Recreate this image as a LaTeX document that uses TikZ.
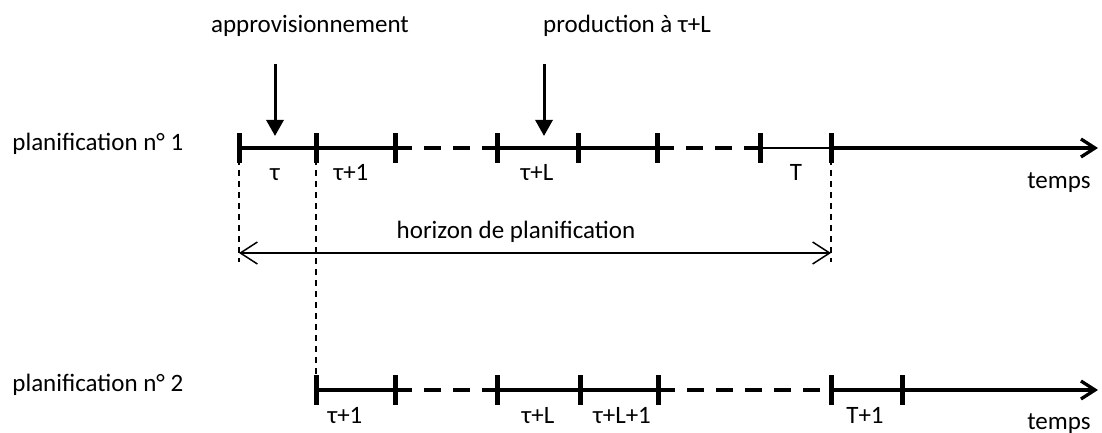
\documentclass[tikz,border=0pt]{standalone}
\usepackage{fontspec}
\setmainfont{Carlito}
\usetikzlibrary{arrows.meta}

\begin{document}
\begin{tikzpicture}[x=0.5pt,y=-0.5pt,
        every node/.style={font=\fontsize{12.5}{15}\selectfont,inner sep=0pt},
        axe/.style={line width=1.65pt},
        tiret/.style={line width=1.65pt,dash pattern=on 8.5pt off 6pt},
        tick/.style={line width=2.5pt},
        guide/.style={line width=0.7pt,dash pattern=on 3pt off 2.5pt},
        fleche/.style={line width=1.5pt,-{Triangle[length=8pt,width=8.5pt]}},
        barb/.style={-{Straight Barb[length=7pt,width=9pt]}}]
        \useasboundingbox (0,0) rectangle (1102,433);
        \foreach \n/\x in {0/239,1/316,2/395,3/497,4/578,5/657,6/760,7/831}
            \coordinate (a\n) at (\x,148);
        \foreach \n/\x in {1/316,2/395,3/497,4/580,5/658,6/831,7/902}
            \coordinate (b\n) at (\x,390);
        \coordinate (ea) at (1098,148);
        \coordinate (eb) at (1098,390);
        \coordinate (g0) at (239,262);
        \coordinate (g7) at (831,262);
        \coordinate (h0) at (239,253);
        \coordinate (h7) at (831,253);
        \coordinate (d1) at (275,64);
        \coordinate (t1) at (275,136);
        \coordinate (d2) at (544,64);
        \coordinate (t2) at (544,136);

        \draw[axe] (a0) -- (a2);
        \draw[tiret] (a2) -- (a3);
        \draw[axe] (a3) -- (a5);
        \draw[tiret] (a5) -- (a6);
        \draw[line width=1pt] (a6) -- (a7);
        \draw[axe,barb] (a7) -- (ea);
        \draw[axe] (b1) -- (b2);
        \draw[tiret] (b2) -- (b3);
        \draw[axe] (b3) -- (b5);
        \draw[tiret] (b5) -- (b6);
        \draw[axe,barb] (b6) -- (eb);
        \foreach \c in {a0,a1,a2,a3,a4,a5,a6,a7,b1,b2,b3,b4,b5,b6,b7}
            \draw[tick] ([yshift=7.5pt]\c) -- ([yshift=-7.5pt]\c);

        \draw[guide] (a0) -- (g0);
        \draw[guide] (a7) -- (g7);
        \draw[guide] (a1) -- (b1);
        \draw[line width=0.75pt,{Straight Barb[length=8.5pt,width=11pt]}-{Straight Barb[length=8.5pt,width=11pt]}] (h0) -- (h7);
        \draw[fleche] (d1) -- (t1);
        \draw[fleche] (d2) -- (t2);

        \node[anchor=base] (appro) at (310,33) {approvisionnement};
        \node[anchor=base] (prod) at (627,33) {production à τ+L};
        \node[anchor=base] (horizon) at (516,238) {horizon de planification};
        \node[anchor=base west] (plan1) at (12,150) {planification n° 1};
        \node[anchor=base west] (plan2) at (12,391) {planification n° 2};
        \node[anchor=base] (la0) at (275,180) {τ};
        \node[anchor=base] (la1) at (351,180) {τ+1};
        \node[anchor=base] (la3) at (537,180) {τ+L};
        \node[anchor=base] (la6) at (796,180) {T};
        \node[anchor=base] (tpsa) at (1059,188) {temps};
        \node[anchor=base] (lb1) at (345,423) {τ+1};
        \node[anchor=base] (lb3) at (538,423) {τ+L};
        \node[anchor=base] (lb4) at (622,423) {τ+L+1};
        \node[anchor=base] (lb6) at (865,423) {T+1};
        \node[anchor=base] (tpsb) at (1059,429) {temps};
\end{tikzpicture}
\end{document}
